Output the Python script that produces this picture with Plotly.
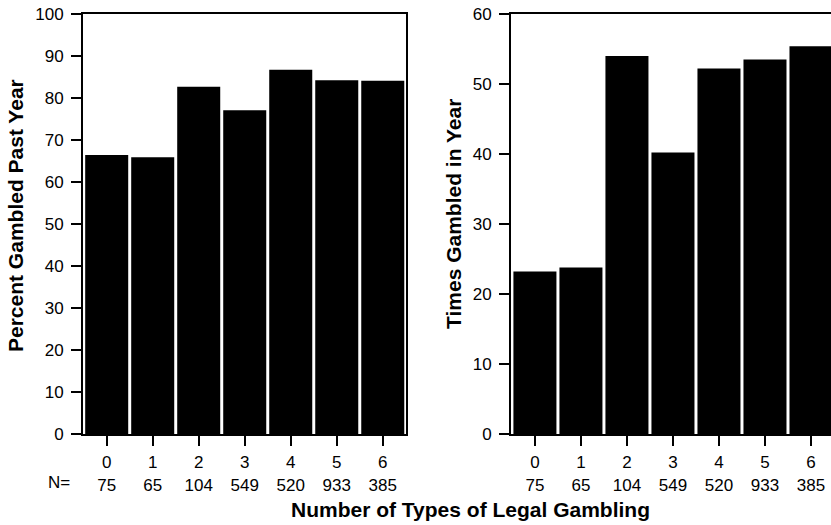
import plotly.graph_objects as go

categories = [0, 1, 2, 3, 4, 5, 6]
n_labels = ["75", "65", "104", "549", "520", "933", "385"]
pct_gambled = [66.4, 65.9, 82.7, 77.1, 86.7, 84.2, 84.1]
times_gambled = [23.2, 23.8, 54.0, 40.2, 52.2, 53.5, 55.4]

tick_text = [f"{c}<br>{n}" for c, n in zip(categories, n_labels)]

W, H = 831, 525
T, B = 14, 525 - 434
FONT = "Liberation Sans, Arial, Helvetica, sans-serif"


def px(x):
    return x / W


fig = go.Figure()
fig.add_trace(go.Bar(x=categories, y=pct_gambled, marker=dict(color="black", line=dict(width=0)),
                     xaxis="x", yaxis="y", showlegend=False))
fig.add_trace(go.Bar(x=categories, y=times_gambled, marker=dict(color="black", line=dict(width=0)),
                     xaxis="x2", yaxis="y2", showlegend=False))

axis_common = dict(showgrid=False, zeroline=False, showline=True, linecolor="black", linewidth=2,
                   ticks="outside", tickcolor="black", tickwidth=2, ticklabeloverflow="allow",
                   tickfont=dict(family=FONT, size=17, color="black"))

fig.update_layout(
    width=W, height=H,
    margin=dict(l=0, r=0, t=T, b=B),
    paper_bgcolor="white", plot_bgcolor="white",
    bargap=0.065,
    font=dict(family=FONT, color="black"),
    xaxis=dict(domain=[px(83), px(406)], range=[-0.515, 6.505], tickmode="array",
               tickvals=categories, ticktext=tick_text, ticklen=10, mirror=True,
               ticklabelstandoff=2, **axis_common),
    yaxis=dict(range=[0, 100], dtick=10, ticklen=10, mirror=True, anchor="x",
               ticklabelstandoff=4, **axis_common),
    xaxis2=dict(domain=[px(511), 1.0], range=[-0.52, 6.435], tickmode="array",
                tickvals=categories, ticktext=tick_text, ticklen=10, mirror=True,
                anchor="y2", ticklabelstandoff=2, **axis_common),
    yaxis2=dict(range=[0, 60], dtick=10, ticklen=10, mirror=False, anchor="x2",
                ticklabelstandoff=4, **axis_common),
)

title_font = dict(family=FONT, size=21, color="black")
annotations = [
    dict(text="<b>Percent Gambled Past Year</b>", textangle=-90, x=16, y=216, font=title_font),
    dict(text="<b>Times Gambled in Year</b>", textangle=-90, x=453, y=214, font=title_font),
    dict(text="<b>Number of Types of Legal Gambling</b>", x=471, y=509, font=title_font),
    dict(text="N=", x=59, y=482, font=dict(family=FONT, size=17, color="black")),
]
plot_h = H - T - B
for a in annotations:
    a["x"] = px(a["x"])
    a["y"] = (H - B - a["y"]) / plot_h
    a["xref"] = "paper"
    a["yref"] = "paper"
    a["showarrow"] = False
    a["xanchor"] = "center"
    a["yanchor"] = "middle"
fig.update_layout(annotations=annotations)

# remove the browser's default 8px body margin so the 831x525 figure fills the window
fig.write_html("out.html", config={"displayModeBar": False},
               post_script="document.body.style.margin='0';")
